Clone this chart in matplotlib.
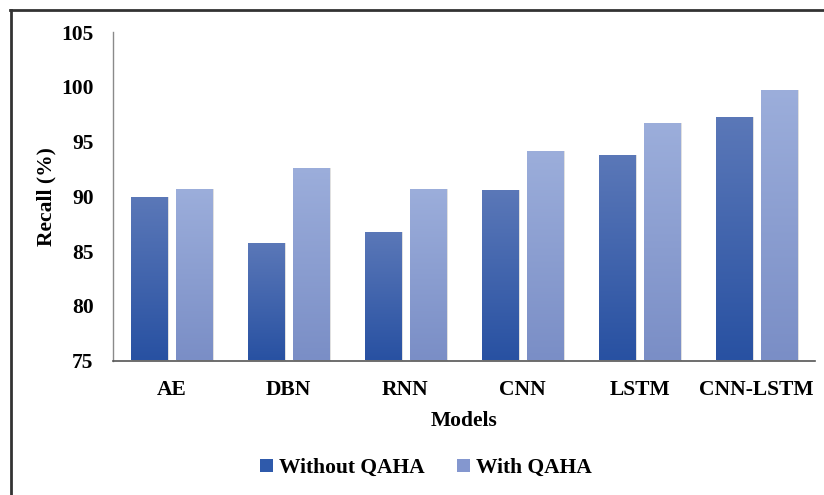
import numpy as np
import matplotlib
matplotlib.use("Agg")
import matplotlib.pyplot as plt
from matplotlib.colors import LinearSegmentedColormap
from matplotlib.lines import Line2D
from matplotlib.patches import Rectangle, Patch

plt.rcParams['font.family'] = ['Liberation Serif', 'DejaVu Serif']
plt.rcParams['font.weight'] = 'bold'

models = ["AE", "DBN", "RNN", "CNN", "LSTM", "CNN-LSTM"]
without_qaha = [89.9, 85.7, 86.7, 90.6, 93.8, 97.2]
with_qaha = [90.7, 92.6, 90.7, 94.1, 96.7, 99.7]
series_names = ["Without QAHA", "With QAHA"]
yticks = [75, 80, 85, 90, 95, 100, 105]

# gradient colours (bottom, top) for each series
grad_without = ("#2851a2", "#5b78b8")
grad_with = ("#7a8ec6", "#9caedb")

fig = plt.figure(figsize=(8.24, 4.95), dpi=100)
ax = fig.add_axes([113 / 824, 134.5 / 495, 702 / 824, 328.5 / 495])

ymin, ymax = 75, 105
x = np.arange(len(models))
width = 0.31
offset = 0.192


def gradient_bars(xs, values, colors, label):
    cmap = LinearSegmentedColormap.from_list(label, list(colors))
    bars = ax.bar(xs, [v - ymin for v in values], width, bottom=ymin,
                  color=colors[0], edgecolor="none", label=label, zorder=2)
    grad = np.linspace(0, 1, 256).reshape(-1, 1)
    for b, v in zip(bars, values):
        x0 = b.get_x()
        # soft shadow on the right side
        sh = Rectangle((x0 + 0.012, ymin), width, v - ymin,
                       facecolor="#000000", alpha=0.12, edgecolor="none",
                       zorder=1.5)
        ax.add_patch(sh)
        b.set_facecolor("none")
        im = ax.imshow(grad, cmap=cmap, origin="lower", aspect="auto",
                       extent=(x0, x0 + width, ymin, v), zorder=2,
                       interpolation="bicubic")
        im.set_clip_path(b)
    return bars


gradient_bars(x - offset, without_qaha, grad_without, series_names[0])
gradient_bars(x + offset, with_qaha, grad_with, series_names[1])

ax.set_xlim(-0.5, len(models) - 0.5)
ax.set_ylim(ymin, ymax)
ax.set_yticks(yticks)
ax.set_xticks(x)
ax.set_xticklabels(models)
ax.tick_params(axis="both", length=0, labelsize=15.5)
ax.tick_params(axis="y", pad=14)
ax.tick_params(axis="x", pad=14)
for lab in ax.get_xticklabels() + ax.get_yticklabels():
    lab.set_fontweight("bold")

for s in ["top", "right"]:
    ax.spines[s].set_visible(False)
ax.spines["left"].set_color("#8a8a8a")
ax.spines["left"].set_linewidth(1.0)
ax.spines["bottom"].set_color("#555555")
ax.spines["bottom"].set_linewidth(1.2)

ax.set_xlabel("Models", fontsize=15.5, fontweight="bold", labelpad=8)
ax.set_ylabel("Recall (%)", fontsize=15.5, fontweight="bold", labelpad=3)

handles = [Patch(facecolor="#2f5aab", edgecolor="none"),
           Patch(facecolor="#8497cf", edgecolor="none")]
fig.legend(handles, series_names, loc="center", ncol=2,
           bbox_to_anchor=(426 / 824, 1 - 468 / 495), frameon=False,
           prop={"size": 15.5, "weight": "bold"}, handlelength=0.6,
           handleheight=0.6, handletextpad=0.3, columnspacing=1.5)

# outer frame (top and left edges)
fig.add_artist(Line2D([10 / 824, 1.0], [1 - 10 / 495, 1 - 10 / 495],
                      transform=fig.transFigure, color="#333333", lw=2.0))
fig.add_artist(Line2D([11 / 824, 11 / 824], [0, 1 - 10 / 495],
                      transform=fig.transFigure, color="#333333", lw=2.0))

fig.savefig("out.png", dpi=100, facecolor="white")
